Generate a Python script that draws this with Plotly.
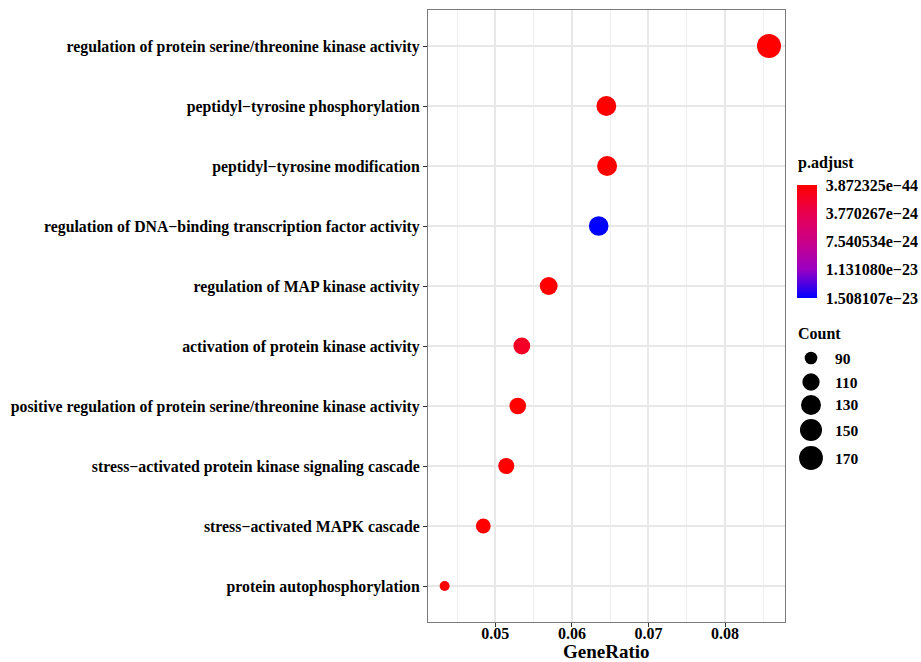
import numpy as np
import plotly.graph_objects as go

MINUS = "\u2212"

# ---- data (bottom to top) ----
terms = [
    "protein autophosphorylation",
    f"stress{MINUS}activated MAPK cascade",
    f"stress{MINUS}activated protein kinase signaling cascade",
    "positive regulation of protein serine/threonine kinase activity",
    "activation of protein kinase activity",
    "regulation of MAP kinase activity",
    f"regulation of DNA{MINUS}binding transcription factor activity",
    f"peptidyl{MINUS}tyrosine modification",
    f"peptidyl{MINUS}tyrosine phosphorylation",
    "regulation of protein serine/threonine kinase activity",
]
gene_ratio = [0.04338, 0.04843, 0.05143, 0.05293, 0.05346, 0.05697, 0.0635, 0.0646, 0.0645, 0.08574]
counts = [87, 97, 103, 106, 107, 114, 127, 130, 129, 172]
p_adjust = [1.2e-28, 3.0e-27, 2.0e-26, 5.0e-28, 1.8e-24, 1.0e-30, 1.508107e-23, 1.0e-34, 1.0e-35, 3.872325e-44]

cbar_ticks = [3.872325e-44, 3.770267e-24, 7.540534e-24, 1.131080e-23, 1.508107e-23]
cbar_labels = [f"3.872325e{MINUS}44", f"3.770267e{MINUS}24", f"7.540534e{MINUS}24",
               f"1.131080e{MINUS}23", f"1.508107e{MINUS}23"]
size_breaks = [90, 110, 130, 150, 170]
x_ticks = [0.05, 0.06, 0.07, 0.08]

# ---- scales ----
cmin_count, cmax_count = min(counts), max(counts)
D_MIN, D_MAX = 10.0, 24.0


def size_scale(c):
    c = np.asarray(c, dtype=float)
    return D_MIN + (D_MAX - D_MIN) * np.sqrt((c - cmin_count) / (cmax_count - cmin_count))


# ggplot red->blue gradient (Lab interpolated) expressed on -p so red is on top
colorscale = [[0.0, "#0000FF"], [0.25, "#9A00C3"], [0.5, "#CA0089"],
              [0.75, "#E8004F"], [1.0, "#FF0000"]]

FONT = "Liberation Serif"

# ---- geometry (pixels) ----
W, H = 921, 662
L, R, T, B = 428, 785, 10, 622
pw, ph = R - L, B - T


def px(x):
    return (x - L) / pw


def py(y):
    return (B - y) / ph


CB_X0, CB_TOP, CB_LEN, CB_THICK = 797, 185, 113, 20

fig = go.Figure()
fig.add_trace(go.Scatter(
    x=gene_ratio, y=terms, mode="markers",
    marker=dict(
        size=size_scale(counts),
        color=[-v for v in p_adjust],
        cmin=-max(cbar_ticks), cmax=-min(cbar_ticks),
        colorscale=colorscale,
        line=dict(width=0),
        opacity=1,
        colorbar=dict(
            thickness=CB_THICK, len=CB_LEN, lenmode="pixels",
            x=px(CB_X0), xanchor="left", xpad=0,
            y=py(CB_TOP), yanchor="top", ypad=0,
            outlinewidth=0,
            tickvals=[-v for v in cbar_ticks], ticktext=cbar_labels,
            ticks="outside", ticklen=6, tickcolor="rgba(0,0,0,0)", tickwidth=1,
            tickfont=dict(family=FONT, size=16, color="black", weight="bold"),
        ),
    ),
    showlegend=False, hoverinfo="x+y",
))

shapes = []
annotations = []
# white tick marks inside the colorbar
vmin, vmax = min(cbar_ticks), max(cbar_ticks)
for v in cbar_ticks:
    yy = CB_TOP + (v - vmin) / (vmax - vmin) * CB_LEN
    for xa, xb in [(CB_X0, CB_X0 + 4), (CB_X0 + CB_THICK - 4, CB_X0 + CB_THICK)]:
        shapes.append(dict(type="line", xref="paper", yref="paper",
                           x0=px(xa), x1=px(xb), y0=py(yy), y1=py(yy),
                           line=dict(color="white", width=1)))

# colorbar title
annotations.append(dict(x=px(796), y=py(163), xref="paper", yref="paper", text="<b>p.adjust</b>",
                        showarrow=False, xanchor="left", yanchor="middle",
                        font=dict(family=FONT, size=16, color="black")))
# size legend
annotations.append(dict(x=px(796), y=py(333), xref="paper", yref="paper", text="<b>Count</b>",
                        showarrow=False, xanchor="left", yanchor="middle",
                        font=dict(family=FONT, size=16, color="black")))
legend_y = [358, 382, 405, 430, 458]
for b, yy, d in zip(size_breaks, legend_y, size_scale(size_breaks)):
    shapes.append(dict(type="circle", xref="paper", yref="paper",
                       xsizemode="pixel", ysizemode="pixel",
                       xanchor=px(811), yanchor=py(yy),
                       x0=-d / 2, x1=d / 2, y0=-d / 2, y1=d / 2,
                       fillcolor="black", line=dict(width=0)))
    annotations.append(dict(x=px(833), y=py(yy), xref="paper", yref="paper", text=f"<b>{b}</b>",
                            showarrow=False, xanchor="left", yanchor="middle",
                            font=dict(family=FONT, size=15.5, color="black")))

# x-axis title
annotations.append(dict(x=0.5, y=py(651), xref="paper", yref="paper", text="<b>GeneRatio</b>",
                        showarrow=False, xanchor="center", yanchor="middle",
                        font=dict(family=FONT, size=19, color="black")))

fig.update_layout(
    width=W, height=H,
    margin=dict(l=L, r=W - R, t=T, b=H - B, pad=0, autoexpand=False),
    paper_bgcolor="white", plot_bgcolor="white",
    shapes=shapes, annotations=annotations,
    xaxis=dict(
        automargin=False,
        range=[0.04121, 0.08783], tickvals=x_ticks, ticktext=[f"<b>{v:.2f}</b>" for v in x_ticks],
        showgrid=True, gridcolor="#e8e8e8", gridwidth=1.5,
        minor=dict(dtick=0.01, tick0=0.045, showgrid=True, gridcolor="#eeeeee", gridwidth=1, ticks=""),
        ticks="outside", ticklen=4, tickcolor="#333333", tickwidth=1,
        ticklabelstandoff=-7,
        showline=True, linecolor="#7a7a7a", linewidth=1.2, mirror=True,
        zeroline=False,
        tickfont=dict(family=FONT, size=16, color="black"),
    ),
    yaxis=dict(
        automargin=False,
        categoryorder="array", categoryarray=terms, range=[-0.6, len(terms) - 0.4],
        tickvals=terms, ticktext=[f"<b>{t}</b>" for t in terms],
        showgrid=True, gridcolor="#e8e8e8", gridwidth=1.5,
        ticks="outside", ticklen=4, tickcolor="#333333", tickwidth=1,
        showline=True, linecolor="#7a7a7a", linewidth=1.2, mirror=True,
        zeroline=False,
        tickfont=dict(family=FONT, size=15.8, color="black"),
    ),
)

fig.write_html("out.html")
